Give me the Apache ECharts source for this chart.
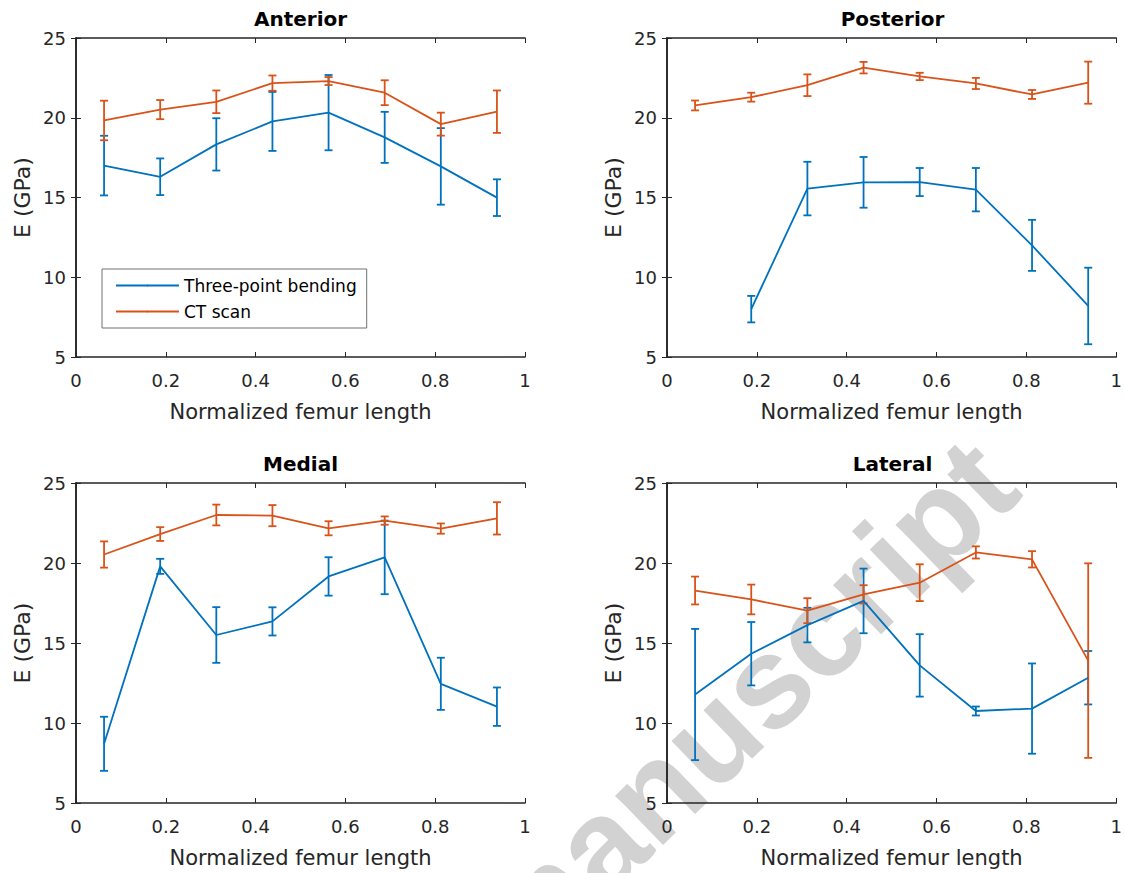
<!DOCTYPE html>
<html>
<head>
<meta charset="utf-8">
<script src="https://cdn.jsdelivr.net/npm/echarts@6/dist/echarts.min.js"></script>
<style>
html,body{margin:0;padding:0;background:#fff;}
#chart{width:1125px;height:873px;}
</style>
</head>
<body>
<div id="chart"></div>
<script>
// ---- data ----
const xPos = [0.0625, 0.1875, 0.3125, 0.4375, 0.5625, 0.6875, 0.8125, 0.9375];
const xTicks = [0, 0.2, 0.4, 0.6, 0.8, 1];
const yTicks = [5, 10, 15, 20, 25];
const panelTitles = ['Anterior', 'Posterior', 'Medial', 'Lateral'];
const seriesNames = ['Three-point bending', 'CT scan'];

const anteriorBendMean = [17.0, 16.3, 18.33, 19.77, 20.32, 18.77, 16.95, 14.99];
const anteriorBendErr  = [1.87, 1.15, 1.64, 1.85, 2.36, 1.6, 2.4, 1.15];
const anteriorCTMean   = [19.83, 20.51, 21.0, 22.17, 22.3, 21.57, 19.6, 20.38];
const anteriorCTErr    = [1.24, 0.6, 0.71, 0.48, 0.25, 0.78, 0.72, 1.33];

const posteriorBendMean = [null, 8.0, 15.56, 15.95, 15.97, 15.49, 12.0, 8.2];
const posteriorBendErr  = [null, 0.83, 1.68, 1.59, 0.88, 1.36, 1.6, 2.4];
const posteriorCTMean   = [20.77, 21.29, 22.04, 23.14, 22.59, 22.15, 21.46, 22.2];
const posteriorCTErr    = [0.31, 0.28, 0.68, 0.36, 0.23, 0.35, 0.28, 1.32];

const medialBendMean = [8.7, 19.79, 15.5, 16.35, 19.16, 20.35, 12.45, 11.02];
const medialBendErr  = [1.69, 0.47, 1.74, 0.88, 1.2, 2.3, 1.63, 1.2];
const medialCTMean   = [20.53, 21.81, 23.0, 22.96, 22.17, 22.65, 22.15, 22.79];
const medialCTErr    = [0.82, 0.43, 0.65, 0.66, 0.44, 0.26, 0.32, 1.01];

const lateralBendMean = [11.78, 14.33, 16.12, 17.63, 13.6, 10.75, 10.9, 12.83];
const lateralBendErr  = [4.1, 1.98, 1.08, 2.02, 1.95, 0.28, 2.82, 1.67];
const lateralCTMean   = [18.28, 17.72, 17.02, 18.04, 18.77, 20.66, 20.23, 13.9];
const lateralCTErr    = [0.87, 0.93, 0.78, 0.57, 1.15, 0.38, 0.51, 6.08];

// ---- layout / style ----
const BLUE = '#0072BD', ORANGE = '#D95319', AX = '#262626';
const FONT = '"DejaVu Sans", sans-serif';
const grids = [
  {left: 76, top: 38, width: 449, height: 319},
  {left: 667, top: 38, width: 451, height: 319},
  {left: 76, top: 483, width: 449, height: 320},
  {left: 667, top: 483, width: 451, height: 320}
];
const panels = [
  [anteriorBendMean, anteriorBendErr, anteriorCTMean, anteriorCTErr],
  [posteriorBendMean, posteriorBendErr, posteriorCTMean, posteriorCTErr],
  [medialBendMean, medialBendErr, medialCTMean, medialCTErr],
  [lateralBendMean, lateralBendErr, lateralCTMean, lateralCTErr]
];

const xAxes = [], yAxes = [], series = [], graphics = [];
const tickStyle = {show: true, inside: true, length: 5, lineStyle: {color: AX, width: 1}};
const lineStyleAx = {show: true, lineStyle: {color: AX, width: 1.6}};

grids.forEach((g, i) => {
  xAxes.push({
    type: 'value', gridIndex: i, position: 'bottom', min: xTicks[0], max: xTicks[xTicks.length - 1], interval: 0.2,
    axisLine: lineStyleAx, axisTick: tickStyle, splitLine: {show: false},
    axisLabel: {color: AX, fontSize: 18, fontFamily: FONT, margin: 14},
    name: 'Normalized femur length', nameLocation: 'middle', nameGap: 44,
    nameTextStyle: {color: AX, fontSize: 21, fontFamily: FONT}
  });
  xAxes.push({
    type: 'value', gridIndex: i, position: 'top', min: 0, max: 1, interval: 0.2,
    axisLine: lineStyleAx, axisTick: tickStyle, splitLine: {show: false}, axisLabel: {show: false}
  });
  yAxes.push({
    type: 'value', gridIndex: i, position: 'left', min: yTicks[0], max: yTicks[yTicks.length - 1], interval: 5,
    axisLine: lineStyleAx, axisTick: tickStyle, splitLine: {show: false},
    axisLabel: {color: AX, fontSize: 18, fontFamily: FONT, margin: 10},
    name: 'E (GPa)', nameLocation: 'middle', nameGap: 43,
    nameTextStyle: {color: AX, fontSize: 22, fontFamily: FONT}
  });
  yAxes.push({
    type: 'value', gridIndex: i, position: 'right', min: 5, max: 25, interval: 5,
    axisLine: lineStyleAx, axisTick: tickStyle, splitLine: {show: false}, axisLabel: {show: false}
  });

  const [bm, be, cm, ce] = panels[i];
  const defs = [[bm, be, BLUE, seriesNames[0]], [cm, ce, ORANGE, seriesNames[1]]];
  defs.forEach(([m, e, color, name]) => {
    const lineData = [], errData = [];
    xPos.forEach((x, k) => {
      if (m[k] !== null) { lineData.push([x, m[k]]); errData.push([x, m[k], e[k]]); }
    });
    series.push({
      type: 'line', name: name, xAxisIndex: 2 * i, yAxisIndex: 2 * i, data: lineData,
      symbol: 'none', showSymbol: false, legendIcon: 'rect',
      lineStyle: {color: color, width: 1.8}, itemStyle: {color: color},
      z: 3, animation: false
    });
    series.push({
      type: 'custom', name: name + ' error', xAxisIndex: 2 * i, yAxisIndex: 2 * i, data: errData,
      encode: {x: 0, y: 1}, z: 3, animation: false, silent: true,
      renderItem: (params, api) => {
        const x = api.value(0), y = api.value(1), er = api.value(2);
        const t = api.coord([x, y + er]), b = api.coord([x, y - er]);
        const hw = 4, st = {stroke: color, lineWidth: 1.8};
        return {type: 'group', children: [
          {type: 'line', shape: {x1: t[0], y1: t[1], x2: b[0], y2: b[1]}, style: st},
          {type: 'line', shape: {x1: t[0] - hw, y1: t[1], x2: t[0] + hw, y2: t[1]}, style: st},
          {type: 'line', shape: {x1: b[0] - hw, y1: b[1], x2: b[0] + hw, y2: b[1]}, style: st}
        ]};
      }
    });
  });

  graphics.push({
    type: 'text', x: g.left + g.width / 2, y: g.top - 19.5, z: 10,
    style: {text: panelTitles[i], font: 'bold 20px ' + FONT, fill: '#000', align: 'center', verticalAlign: 'middle'}
  });
});

// watermark
graphics.push({
  type: 'text', x: 742, y: 706, z: -10, rotation: 44 * Math.PI / 180,
  style: {text: 'manuscript', font: 'bold 130px "Liberation Sans", Arial, sans-serif', fill: '#d2d2d2', align: 'center', verticalAlign: 'middle'}
});

const chart = echarts.init(document.getElementById('chart'), null, {renderer: 'svg', width: 1125, height: 873});
chart.setOption({
  backgroundColor: '#fff',
  animation: false,
  grid: grids.map(g => Object.assign({containLabel: false}, g)),
  xAxis: xAxes,
  yAxis: yAxes,
  legend: {
    data: seriesNames, orient: 'vertical', left: 102, top: 269,
    padding: [8, 10, 8, 13], itemGap: 9, itemWidth: 63, itemHeight: 2,
    borderColor: '#707070', borderWidth: 1, backgroundColor: '#fff',
    textStyle: {color: '#000', fontSize: 17, fontFamily: FONT}
  },
  graphic: graphics,
  series: series
});
</script>
</body>
</html>
